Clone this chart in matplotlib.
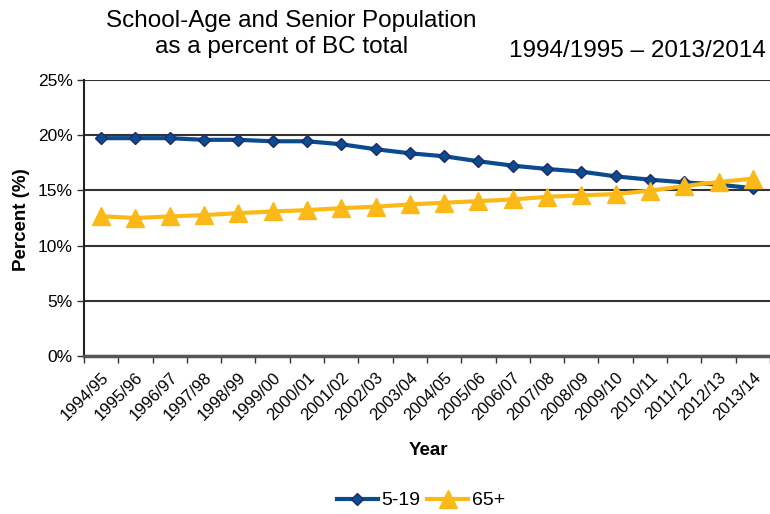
import matplotlib.pyplot as plt
import numpy as np

plt.rcParams['font.family'] = ['Liberation Sans', 'DejaVu Sans']

years = ['1994/95', '1995/96', '1996/97', '1997/98', '1998/99', '1999/00',
         '2000/01', '2001/02', '2002/03', '2003/04', '2004/05', '2005/06',
         '2006/07', '2007/08', '2008/09', '2009/10', '2010/11', '2011/12',
         '2012/13', '2013/14']
school_age = [19.73, 19.73, 19.73, 19.58, 19.58, 19.45, 19.45, 19.18, 18.73, 18.36,
              18.09, 17.64, 17.24, 16.94, 16.70, 16.27, 15.97, 15.73, 15.52, 15.20]
senior = [12.66, 12.50, 12.64, 12.76, 12.94, 13.09, 13.21, 13.39, 13.52, 13.73,
          13.88, 14.03, 14.18, 14.42, 14.55, 14.67, 14.97, 15.39, 15.76, 16.06]

blue = '#0B4C8F'
gold = '#FBB917'

fig = plt.figure(figsize=(7.7, 5.14), dpi=100)
ax = fig.add_axes([0.109, 0.3074, 0.891, 0.537])

x = np.arange(len(years))
ax.plot(x, school_age, color=blue, lw=3, marker='D', ms=6.5,
        mfc=blue, mec='#1F2A6B', mew=1, label='5-19', zorder=3)
ax.plot(x, senior, color=gold, lw=3, marker='^', ms=13,
        mfc=gold, mec=gold, label='65+', zorder=4)

ax.set_xlim(-0.5, len(years) - 0.5)
ax.set_ylim(0, 25)
ax.set_yticks(np.arange(0, 26, 5))
ax.set_yticklabels([f'{v}%' for v in range(0, 26, 5)], fontsize=12.5)
ax.yaxis.grid(True, color='#333333', lw=1.5)
ax.set_axisbelow(True)

# ticks sit between categories, labels at category centres
ax.set_xticks(np.arange(-0.5, len(years), 1))
ax.set_xticklabels([])
ax.set_xticks(x, minor=True)
ax.set_xticklabels(years, minor=True, rotation=45, ha='right',
                   rotation_mode='anchor', fontsize=12)
ax.tick_params(axis='x', which='minor', length=0, pad=10)
ax.tick_params(axis='x', which='major', length=5, width=1, color='#333333')
ax.tick_params(axis='y', length=5, width=1, color='#333333', pad=3)

for side in ('top', 'right'):
    ax.spines[side].set_visible(False)
ax.spines['left'].set_color('#222222')
ax.spines['left'].set_linewidth(1.5)
ax.spines['bottom'].set_color('#555555')
ax.spines['bottom'].set_linewidth(2.5)

fig.text(0.028, 0.572, 'Percent (%)', fontsize=13.5, fontweight='bold',
         rotation=90, ha='center', va='center')
fig.text(0.556, 0.123, 'Year', fontsize=13.5, fontweight='bold', ha='center', va='center')

fig.text(0.378, 0.9475, 'School-Age and Senior Population', fontsize=17.5,
         ha='center', va='baseline')
fig.text(0.366, 0.897, 'as a percent of BC total', fontsize=17.5,
         ha='center', va='baseline')
fig.text(0.995, 0.889, '1994/1995 \u2013 2013/2014', fontsize=17.5,
         ha='right', va='baseline')

fig.legend(loc='center', bbox_to_anchor=(0.547, 0.026), ncol=2, frameon=False,
           fontsize=14, handlelength=2.1, columnspacing=0.35, handletextpad=0.2,
           borderaxespad=0, borderpad=0)

fig.savefig('out.png', dpi=100)
